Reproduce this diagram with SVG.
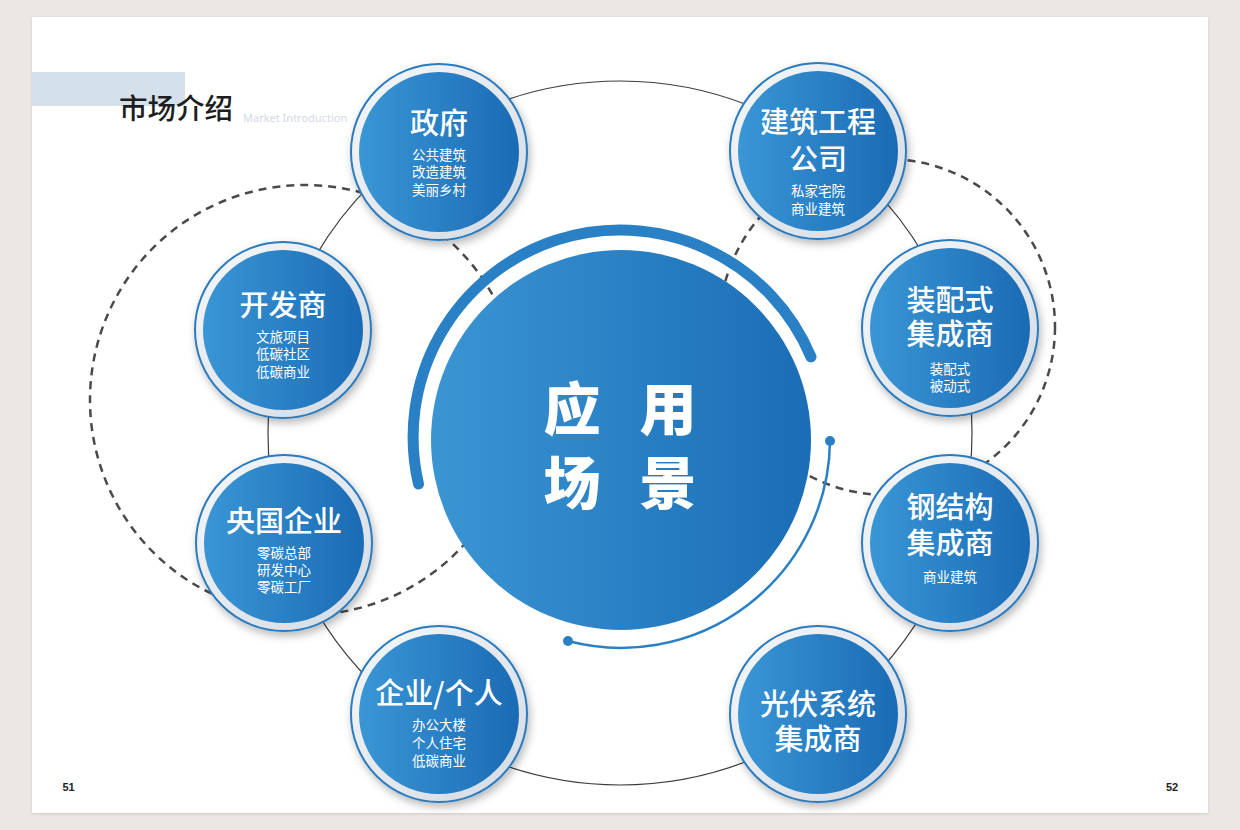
<svg xmlns="http://www.w3.org/2000/svg" width="1240" height="830" viewBox="0 0 1240 830">
  <defs>
    <linearGradient id="gCore" x1="0" y1="0" x2="1" y2="0">
      <stop offset="0" stop-color="#3a96d5"/>
      <stop offset="1" stop-color="#1a6bb5"/>
    </linearGradient>
    <linearGradient id="gRing" x1="0" y1="0" x2="1" y2="1">
      <stop offset="0" stop-color="#f6f8fa"/>
      <stop offset="1" stop-color="#d3dae2"/>
    </linearGradient>
    <linearGradient id="gCenter" x1="0" y1="0" x2="1" y2="0">
      <stop offset="0" stop-color="#3b95d3"/>
      <stop offset="1" stop-color="#1a6db6"/>
    </linearGradient>
    <filter id="shadow" x="-20%" y="-20%" width="145%" height="145%">
      <feDropShadow dx="2" dy="4" stdDeviation="4" flood-color="#000" flood-opacity="0.28"/>
    </filter>
    <filter id="pageShadow" x="-5%" y="-5%" width="110%" height="110%">
      <feDropShadow dx="0" dy="1" stdDeviation="1.5" flood-color="#000" flood-opacity="0.12"/>
    </filter>
  </defs>
  <style>
    .ring { fill: url(#gRing); stroke: #2b7bbf; stroke-width: 2; }
    .core { fill: url(#gCore); }
    .t { font-family: "Noto Sans CJK SC", "Noto Sans", sans-serif; font-size: 29px; font-weight: 500; fill: #ffffff; text-anchor: middle; }
    .s { font-family: "Noto Sans CJK SC", "Noto Sans", sans-serif; font-size: 13.5px; fill: #ffffff; text-anchor: middle; }
    .big { font-family: "Noto Sans CJK SC", sans-serif; font-size: 57px; font-weight: 900; fill: #ffffff; text-anchor: middle; }
    .dash { fill: none; stroke: #4a4a4a; stroke-width: 2.5; stroke-dasharray: 8 6; }
    .solid { fill: none; stroke: #3c3c3c; stroke-width: 1.2; }
    .pn { font-family: "Liberation Sans", Arial, sans-serif; font-size: 11px; font-weight: bold; fill: #222; text-anchor: middle; }
  </style>

  <rect x="0" y="0" width="1240" height="830" fill="#ebe8e3"/>
  <rect x="32" y="17" width="1176" height="796" fill="#ffffff" filter="url(#pageShadow)"/>

  <g id="header">
    <rect x="32" y="72" width="153" height="34" fill="#d4e0ea"/>
    <text x="119" y="119" font-family="Noto Sans CJK SC, sans-serif" font-size="28.5" font-weight="500" fill="#1e1e1e">市场介绍</text>
    <text x="243" y="122" font-family="Noto Sans, Liberation Sans, sans-serif" font-size="11" fill="#d3d9e2">Market Introduction</text>
  </g>

  <g id="connectors">
    <circle class="dash" cx="305" cy="400" r="215"/>
    <circle class="dash" cx="887" cy="327" r="168"/>
    <circle class="solid" cx="620" cy="433" r="352"/>
  </g>

  <g id="center">
    <circle cx="621" cy="440" r="190" fill="url(#gCenter)"/>
    <path d="M 418.5 484 A 207 207 0 0 1 811 357" fill="none" stroke="#2a80c4" stroke-width="11" stroke-linecap="round"/>
    <path d="M 830 441 A 209 209 0 0 1 568 641" fill="none" stroke="#2a80c4" stroke-width="2.5"/>
    <circle cx="830" cy="441" r="5" fill="#2a80c4"/>
    <circle cx="568" cy="641" r="5" fill="#2a80c4"/>
    <text class="big" x="572" y="430">应</text>
    <text class="big" x="668" y="430">用</text>
    <text class="big" x="572" y="504">场</text>
    <text class="big" x="668" y="504">景</text>
  </g>

  <g id="n-zhengfu" transform="translate(439,152)">
    <circle class="ring" r="88" filter="url(#shadow)"/>
    <circle class="core" r="80"/>
    <text class="t" y="-18">政府</text>
    <text class="s" y="8">公共建筑</text>
    <text class="s" y="25">改造建筑</text>
    <text class="s" y="43">美丽乡村</text>
  </g>

  <g id="n-jianzhu" transform="translate(818,151)">
    <circle class="ring" r="88" filter="url(#shadow)"/>
    <circle class="core" r="80"/>
    <text class="t" y="-18">建筑工程</text>
    <text class="t" y="19">公司</text>
    <text class="s" y="45">私家宅院</text>
    <text class="s" y="63">商业建筑</text>
  </g>

  <g id="n-kaifa" transform="translate(283,330)">
    <circle class="ring" r="88" filter="url(#shadow)"/>
    <circle class="core" r="80"/>
    <text class="t" y="-14">开发商</text>
    <text class="s" y="12">文旅项目</text>
    <text class="s" y="29">低碳社区</text>
    <text class="s" y="47">低碳商业</text>
  </g>

  <g id="n-zhuangpei" transform="translate(950,328)">
    <circle class="ring" r="88" filter="url(#shadow)"/>
    <circle class="core" r="80"/>
    <text class="t" y="-17">装配式</text>
    <text class="t" y="17">集成商</text>
    <text class="s" y="46">装配式</text>
    <text class="s" y="63">被动式</text>
  </g>

  <g id="n-yangqi" transform="translate(284,543)">
    <circle class="ring" r="88" filter="url(#shadow)"/>
    <circle class="core" r="80"/>
    <text class="t" y="-11">央国企业</text>
    <text class="s" y="15">零碳总部</text>
    <text class="s" y="32">研发中心</text>
    <text class="s" y="49">零碳工厂</text>
  </g>

  <g id="n-gangjiegou" transform="translate(950,543)">
    <circle class="ring" r="88" filter="url(#shadow)"/>
    <circle class="core" r="80"/>
    <text class="t" y="-25">钢结构</text>
    <text class="t" y="11">集成商</text>
    <text class="s" y="39">商业建筑</text>
  </g>

  <g id="n-qiye" transform="translate(439,714)">
    <circle class="ring" r="88" filter="url(#shadow)"/>
    <circle class="core" r="80"/>
    <text class="t" y="-10">企业/个人</text>
    <text class="s" y="16">办公大楼</text>
    <text class="s" y="34">个人住宅</text>
    <text class="s" y="52">低碳商业</text>
  </g>

  <g id="n-guangfu" transform="translate(818,714)">
    <circle class="ring" r="88" filter="url(#shadow)"/>
    <circle class="core" r="80"/>
    <text class="t" y="1">光伏系统</text>
    <text class="t" y="36">集成商</text>
  </g>

  <text class="pn" x="68.5" y="791">51</text>
  <text class="pn" x="1172" y="791">52</text>
</svg>
